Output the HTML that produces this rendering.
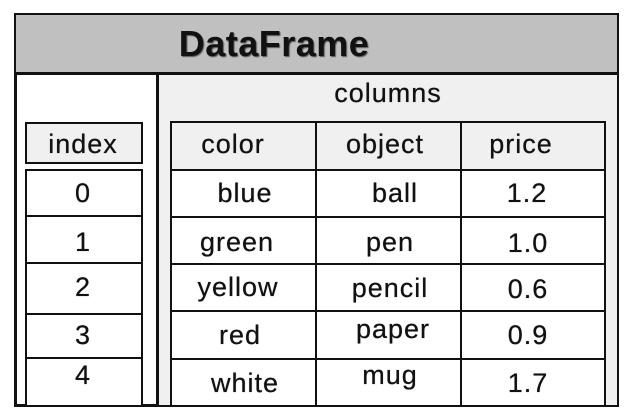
<!DOCTYPE html>
<html><head><meta charset="utf-8"><style>
html,body{margin:0;padding:0;background:#fff;width:634px;height:419px;overflow:hidden;position:relative}
div{position:absolute;box-sizing:border-box}
.t{font-family:"Liberation Sans",sans-serif;font-size:27px;line-height:27px;letter-spacing:1px;color:#111;white-space:nowrap;transform:translateX(-50%);text-shadow:0 0 0.6px #111}
.b{border:2px solid #111}
</style></head><body>
<div style="left:14px;top:13px;width:605px;height:394px;border:3px solid #111;background:#fff"></div>
<div style="left:16px;top:15px;width:601px;height:60px;background:#c0c0c0;border-bottom:3px solid #111"></div>
<div style="left:156px;top:75px;width:461px;height:330px;background:#f0f0f0;border-left:3px solid #111"></div>
<div class="b" style="left:25px;top:122px;width:118px;height:42px;background:#f0f0f0"></div>
<div class="b" style="left:25px;top:169px;width:118px;height:48px;background:#fff"></div>
<div class="b" style="left:25px;top:215px;width:118px;height:49px;background:#fff"></div>
<div class="b" style="left:25px;top:262px;width:118px;height:53px;background:#fff"></div>
<div class="b" style="left:25px;top:313px;width:118px;height:46px;background:#fff"></div>
<div class="b" style="left:25px;top:357px;width:118px;height:50px;background:#fff"></div>
<div class="b" style="left:170px;top:121px;width:436px;height:50px;background:#f0f0f0"></div>
<div class="b" style="left:170px;top:169px;width:436px;height:238px;background:#fff"></div>
<div style="left:170px;top:216px;width:436px;height:2px;background:#111"></div>
<div style="left:170px;top:263px;width:436px;height:2px;background:#111"></div>
<div style="left:170px;top:310px;width:436px;height:2px;background:#111"></div>
<div style="left:170px;top:358px;width:436px;height:2px;background:#111"></div>
<div style="left:315px;top:121px;width:2px;height:286px;background:#111"></div>
<div style="left:460px;top:121px;width:2px;height:286px;background:#111"></div>

<div class="t" style="left:274px;top:26px;font-size:36px;line-height:36px;font-weight:bold;letter-spacing:0.5px;text-shadow:1px 1px 1px #555">DataFrame</div>
<div class="t" style="left:388px;top:80px">columns</div>
<div class="t" style="left:83px;top:131px">index</div>
<div class="t" style="left:233px;top:131px">color</div>
<div class="t" style="left:385px;top:131px">object</div>
<div class="t" style="left:521px;top:131px">price</div>

<div class="t" style="left:83px;top:180px">0</div>
<div class="t" style="left:83px;top:229px">1</div>
<div class="t" style="left:83px;top:274px">2</div>
<div class="t" style="left:83px;top:322px">3</div>
<div class="t" style="left:83px;top:362px">4</div>

<div class="t" style="left:245px;top:180px">blue</div>
<div class="t" style="left:237px;top:229px">green</div>
<div class="t" style="left:238px;top:274px">yellow</div>
<div class="t" style="left:240px;top:322px">red</div>
<div class="t" style="left:245px;top:370px">white</div>

<div class="t" style="left:395px;top:180px">ball</div>
<div class="t" style="left:390px;top:229px">pen</div>
<div class="t" style="left:390px;top:275px">pencil</div>
<div class="t" style="left:393px;top:316px">paper</div>
<div class="t" style="left:390px;top:362px">mug</div>

<div class="t" style="left:527px;top:180px">1.2</div>
<div class="t" style="left:528px;top:230px">1.0</div>
<div class="t" style="left:528px;top:276px">0.6</div>
<div class="t" style="left:528px;top:322px">0.9</div>
<div class="t" style="left:528px;top:370px">1.7</div>
</body></html>
